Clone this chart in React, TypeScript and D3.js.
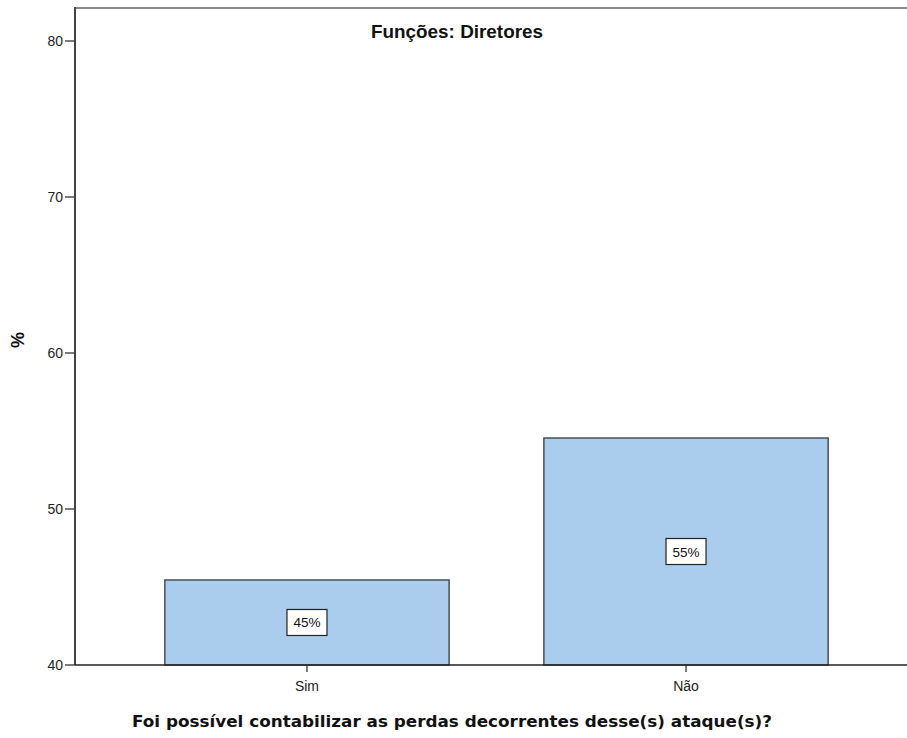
import React from "react";
import * as d3 from "d3";

const categories = ["Sim", "Não"];
const values = [45.45, 54.55];
const valueLabels = ["45%", "55%"];
const yTicks = [40, 50, 60, 70, 80];
const chartTitle = "Funções: Diretores";
const xTitle = "Foi possível contabilizar as perdas decorrentes desse(s) ataque(s)?";
const yTitle = "%";

export default function App() {
  const W = 907, H = 738;
  const left = 75, top = 8, bottom = 665;
  const y = d3.scaleLinear().domain([40, 80]).range([665, 41]);
  const x = d3.scaleBand<string>().domain(categories).range([75, 918]).paddingInner(0.25).paddingOuter(0.237);
  const font = "'Liberation Sans', Arial, sans-serif";
  return (
    <svg width={W} height={H} style={{ position: "absolute", left: 0, top: 0, background: "#fff" }}>
      <line x1={left} x2={W} y1={top} y2={top} stroke="#8a8a8a" strokeWidth={2} />
      {categories.map((c, i) => {
        const bx = x(c)!;
        const bw = x.bandwidth();
        const yt = y(values[i]);
        const cx = bx + bw / 2;
        const cy = (yt + bottom) / 2;
        return (
          <g key={c}>
            <rect x={bx} y={yt} width={bw} height={bottom - yt} fill="#aacdee" stroke="#4a4f55" strokeWidth={1.5} />
            <rect x={cx - 20} y={cy - 13} width={40} height={26} fill="#fff" stroke="#222" strokeWidth={1.2} />
            <text x={cx} y={cy + 5} textAnchor="middle" fontFamily={font} fontSize={13.5} fill="#111">{valueLabels[i]}</text>
            <line x1={cx} x2={cx} y1={bottom} y2={bottom + 7} stroke="#222" strokeWidth={1.2} />
            <text x={cx} y={bottom + 26} textAnchor="middle" fontFamily={font} fontSize={14} fill="#222">{c}</text>
          </g>
        );
      })}
      <line x1={left} x2={left} y1={top - 1} y2={bottom} stroke="#444" strokeWidth={2} />
      <line x1={left} x2={W} y1={bottom} y2={bottom} stroke="#222" strokeWidth={1.5} />
      {yTicks.map((t) => (
        <g key={t}>
          <line x1={left - 10} x2={left} y1={y(t)} y2={y(t)} stroke="#333" strokeWidth={1.3} />
          <text x={left - 12} y={y(t) + 5} textAnchor="end" fontFamily={font} fontSize={14} fill="#222">{t}</text>
        </g>
      ))}
      <text x={457} y={38} textAnchor="middle" fontFamily={font} fontWeight="bold" fontSize={18} fill="#111" textLength={172} lengthAdjust="spacingAndGlyphs">{chartTitle}</text>
      <text transform={`translate(24,340) rotate(-90)`} textAnchor="middle" fontFamily={font} fontWeight="bold" fontSize={18} fill="#111">{yTitle}</text>
      <text x={452} y={727} textAnchor="middle" fontFamily="'DejaVu Sans', Verdana, sans-serif" fontWeight="bold" fontSize={15.5} fill="#111" textLength={640} lengthAdjust="spacingAndGlyphs">{xTitle}</text>
    </svg>
  );
}
